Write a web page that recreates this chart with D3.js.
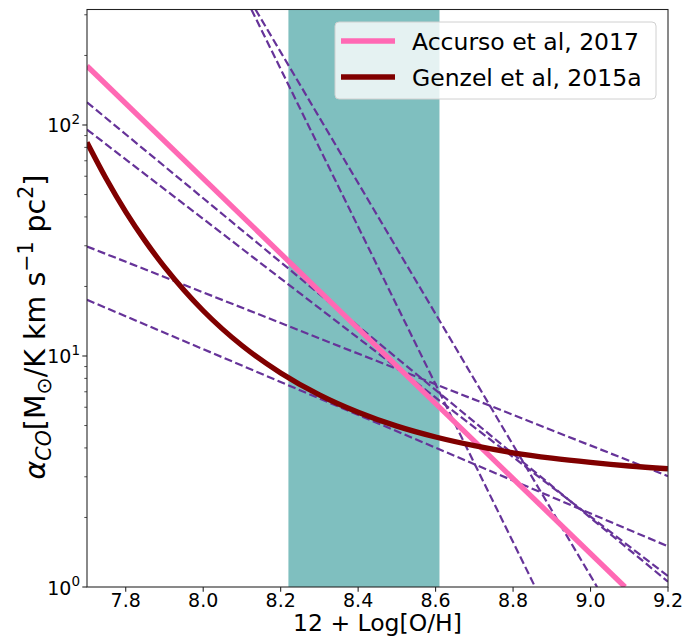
<!DOCTYPE html>
<html>
<head>
<meta charset="utf-8">
<title>alpha_CO vs metallicity</title>
<script src="https://cdn.jsdelivr.net/npm/d3@7"></script>
<style>
  body { margin: 0; background: #fff; }
  text { font-family: "DejaVu Sans", sans-serif; fill: #000; }
</style>
</head>
<body>
<div class="d3-viz"></div>
<script>
// ---- data ----
var xTicks = [7.8, 8.0, 8.2, 8.4, 8.6, 8.8, 9.0, 9.2];
var yTicks = [1, 10, 100];
var yTickExp = ["0", "1", "2"];
var band = [8.22, 8.61];

var accursoX = [7.7, 9.089];
var accursoY = [180, 1.0];

var genzelX = [7.7, 7.75, 7.8, 7.85, 7.9, 7.95, 8.0, 8.1, 8.2, 8.3, 8.4, 8.5, 8.6, 8.7, 8.8, 8.9, 9.0, 9.1, 9.2];
var genzelY = [84.1, 58.4, 42.1, 31.5, 24.3, 19.3, 15.7, 11.1, 8.45, 6.79, 5.71, 4.97, 4.46, 4.09, 3.81, 3.61, 3.46, 3.34, 3.25];

// other prescriptions (dashed), start / end points
var dashX = [[7.7, 9.2], [7.7, 9.2], [7.7, 9.2], [7.7, 9.2], [8.1245, 8.857], [8.135, 9.017]];
var dashY = [[125.3, 1.054], [95.5, 1.114], [29.8, 3.02], [17.5, 1.50], [316.2, 1.0], [316.2, 1.0]];

var legendNames = ["Accurso et al, 2017", "Genzel et al, 2015a"];
var legendColors = ["#ff69b4", "#800000"];

(function(){
var width = 686, height = 639;
var pL = 87, pR = 668, pT = 9.5, pB = 587;

var svg = d3.select(".d3-viz")
    .append("svg")
    .attr("width", width)
    .attr("height", height);

var x = d3.scaleLinear().domain([7.7, 9.2]).range([pL, pR]);
var y = d3.scaleLog().domain([1, 316.2]).range([pB, pT]);

svg.append("clipPath").attr("id", "plotclip")
    .append("rect")
    .attr("x", pL).attr("y", pT)
    .attr("width", pR - pL).attr("height", pB - pT);

var plot = svg.append("g").attr("clip-path", "url(#plotclip)");

// shaded metallicity range
plot.append("rect")
    .attr("x", x(band[0]))
    .attr("y", pT)
    .attr("width", x(band[1]) - x(band[0]))
    .attr("height", pB - pT)
    .attr("fill", "teal")
    .attr("opacity", 0.5);

var line = d3.line().x(function(d){ return x(d[0]); }).y(function(d){ return y(d[1]); });

// dashed lines
for (var i = 0; i < dashX.length; i++){
    plot.append("path")
        .attr("d", line(d3.zip(dashX[i], dashY[i])))
        .attr("fill", "none")
        .attr("stroke", "#663399")
        .attr("stroke-width", 2.2)
        .attr("stroke-dasharray", "8,3.5");
}

plot.append("path")
    .attr("d", line(d3.zip(accursoX, accursoY)))
    .attr("fill", "none")
    .attr("stroke", legendColors[0])
    .attr("stroke-width", 5.3);

plot.append("path")
    .attr("d", line.curve(d3.curveMonotoneX)(d3.zip(genzelX, genzelY)))
    .attr("fill", "none")
    .attr("stroke", legendColors[1])
    .attr("stroke-width", 5.3);

// frame
svg.append("rect")
    .attr("x", pL).attr("y", pT)
    .attr("width", pR - pL).attr("height", pB - pT)
    .attr("fill", "none")
    .attr("stroke", "#222")
    .attr("stroke-width", 1.07);

// x ticks
var xa = svg.append("g");
xTicks.forEach(function(t){
    xa.append("line")
        .attr("x1", x(t)).attr("x2", x(t))
        .attr("y1", pB).attr("y2", pB + 4.7)
        .attr("stroke", "#222").attr("stroke-width", 1.07);
    xa.append("text")
        .attr("x", x(t)).attr("y", 607)
        .attr("text-anchor", "middle")
        .attr("font-size", "19px")
        .text(t.toFixed(1));
});

// y ticks (log)
var ya = svg.append("g");
yTicks.forEach(function(t, i){
    ya.append("line")
        .attr("x1", pL - 4.7).attr("x2", pL)
        .attr("y1", y(t)).attr("y2", y(t))
        .attr("stroke", "#222").attr("stroke-width", 1.07);
    var tx = ya.append("text")
        .attr("x", pL - 7).attr("y", y(t) + 7.5)
        .attr("text-anchor", "end")
        .attr("font-size", "19px");
    tx.append("tspan").text("10");
    tx.append("tspan").attr("font-size", "13.5px").attr("dy", -8.5).text(yTickExp[i]);
});
y.ticks().forEach(function(t){
    var m = t / Math.pow(10, Math.floor(Math.log10(t) + 1e-9));
    if (Math.abs(m - 1) < 1e-6) return;
    ya.append("line")
        .attr("x1", pL - 2.7).attr("x2", pL)
        .attr("y1", y(t)).attr("y2", y(t))
        .attr("stroke", "#222").attr("stroke-width", 0.8);
});

// axis labels
svg.append("text")
    .attr("x", (pL + pR) / 2).attr("y", 631)
    .attr("text-anchor", "middle")
    .attr("font-size", "23.5px")
    .text("12 + Log[O/H]");

var yl = svg.append("text")
    .attr("transform", "translate(45,327) rotate(-90)")
    .attr("text-anchor", "middle")
    .attr("font-size", "28.5px");
yl.append("tspan").attr("font-style", "italic").text("α");
yl.append("tspan").attr("font-style", "italic").attr("font-size", "20.5px").attr("dy", 6).text("CO");
yl.append("tspan").attr("dy", -6).text("[M");
yl.append("tspan").attr("font-size", "20.5px").attr("dy", 6).text("⊙");
yl.append("tspan").attr("dy", -6).text("/K km s");
yl.append("tspan").attr("font-size", "20.5px").attr("dy", -12).text("−1");
yl.append("tspan").attr("dy", 12).text(" pc");
yl.append("tspan").attr("font-size", "20.5px").attr("dy", -12).text("2");
yl.append("tspan").attr("dy", 12).text("]");

// legend
var lg = svg.append("g");
lg.append("rect")
    .attr("x", 335).attr("y", 22)
    .attr("width", 321).attr("height", 77)
    .attr("rx", 4)
    .attr("fill", "white").attr("fill-opacity", 0.8)
    .attr("stroke", "#d0d0d0").attr("stroke-width", 1);
legendNames.forEach(function(n, i){
    var ly = 41 + i * 36;
    lg.append("line")
        .attr("x1", 341).attr("x2", 395)
        .attr("y1", ly).attr("y2", ly)
        .attr("stroke", legendColors[i]).attr("stroke-width", 5.3);
    lg.append("text")
        .attr("x", 412).attr("y", ly + 8.5)
        .attr("font-size", "23.5px")
        .text(n);
});
})();
</script>
</body>
</html>
